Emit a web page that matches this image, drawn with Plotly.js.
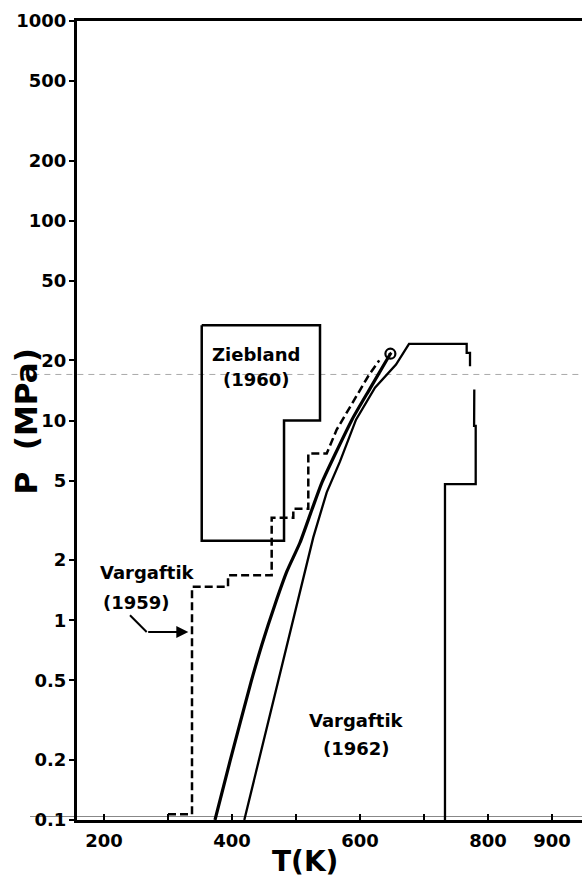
<!DOCTYPE html>
<html>
<head>
<meta charset="utf-8">
<script src="https://cdn.plot.ly/plotly-3.0.1.min.js"></script>
<style>html,body{margin:0;padding:0;background:#fff;}#chart{width:582px;height:880px;}</style>
</head>
<body>
<div id="chart"></div>
<script>
// ---- Data (T in K, P in MPa) ----
// Saturation (vapour-pressure) curve, ending at the critical point
const T_sat = [373.4, 396.9, 429.7, 446.9, 467.2, 485.9, 506.3, 525, 540.6, 560.9, 587.5, 615.6, 642.2, 647.5];
const P_sat = [0.1, 0.197, 0.49, 0.759, 1.2, 1.76, 2.45, 3.59, 4.9, 6.76, 10.1, 14.45, 20.2, 21.6];
// Critical point
const T_crit = [647.5];
const P_crit = [21.6];
// Vargaftik (1962) region boundary
const T_v62 = [419.2, 481.3, 527, 548, 568.8, 593.8, 623.4, 656.3, 676.6, 766.7, 766.7, 771.9, 771.9, null, 778.6, 778.3, 780.8, 780.8, 732.8, 732.8];
const P_v62 = [0.1, 0.661, 2.6, 4.37, 6.24, 10.1, 14.6, 19.05, 24.2, 24.2, 21.8, 21.8, 18.7, null, 14.3, 9.4, 9.4, 4.8, 4.8, 0.1];
// Vargaftik (1959) region boundary (dashed)
const T_v59 = [300, 337.5, 337.5, 393.8, 393.8, 462, 462, 495.8, 495.8, 519.2, 519.2, 548, 563.6, 587, 613, 630];
const P_v59 = [0.107, 0.107, 1.47, 1.47, 1.68, 1.68, 3.26, 3.26, 3.62, 3.62, 6.84, 6.84, 9.0, 12.0, 16.7, 20.0];
// Ziebland (1960) region boundary
const T_zb = [352.7, 537.5, 537.5, 481.3, 481.3, 352.7, 352.7];
const P_zb = [30, 30, 10, 10, 2.5, 2.5, 30];
// Pointer arrow for the Vargaftik (1959) label
const T_arrow = [240.6, 266.7, 331.7];
const P_arrow = [1.06, 0.874, 0.874];
// Faint horizontal lines in the scan
const P_faint = [17, 0.1041];
// Region labels
const labelText = ["Ziebland", "(1960)", "Vargaftik", "(1959)", "Vargaftik", "(1962)"];
const labelT = [437.5, 439, 268, 251, 593.8, 595.3];
const labelP = [21.4, 16.0, 1.74, 1.23, 0.316, 0.229];
// Axis ticks
const xTickVals = [200, 300, 400, 500, 600, 700, 800, 900];
const xTickText = ["200", "", "400", "", "600", "", "800", "900"];
const yTickVals = [0.1, 0.2, 0.5, 1, 2, 5, 10, 20, 50, 100, 200, 500, 1000];
const yTickText = ["0.1", "0.2", "0.5", "1", "2", "5", "10", "20", "50", "100", "200", "500", "1000"];

const FONT = "DejaVu Sans, Arial, sans-serif";

const traces = [
  {x: T_zb, y: P_zb, mode: "lines", line: {color: "#000", width: 2.5}, hoverinfo: "skip"},
  {x: T_v59, y: P_v59, mode: "lines", line: {color: "#000", width: 2.5, dash: "8px,4px"}, hoverinfo: "skip"},
  {x: T_v62, y: P_v62, mode: "lines", connectgaps: false, line: {color: "#000", width: 2.3}, hoverinfo: "skip"},
  {x: T_sat, y: P_sat, mode: "lines", line: {color: "#000", width: 3.2, shape: "spline", smoothing: 0.6}, hoverinfo: "skip"},
  {x: T_crit, y: P_crit, mode: "markers", marker: {symbol: "circle-open-dot", size: 10, color: "#000", line: {width: 2.2, color: "#000"}}, hoverinfo: "skip"},
  {x: T_arrow.slice(0, 2), y: P_arrow.slice(0, 2), mode: "lines", line: {color: "#000", width: 2}, hoverinfo: "skip"}
];

const annotations = labelText.map((t, i) => ({
  x: labelT[i], y: Math.log10(labelP[i]), xref: "x", yref: "y",
  text: t, showarrow: false,
  font: {family: FONT, size: 18, weight: "bold", color: "#000"}
}));
annotations.push({
  x: T_arrow[2], y: Math.log10(P_arrow[2]), xref: "x", yref: "y",
  ax: T_arrow[1], ay: Math.log10(P_arrow[1]), axref: "x", ayref: "y",
  showarrow: true, arrowhead: 2, arrowsize: 1.2, arrowwidth: 2, arrowcolor: "#000", text: ""
});
// axis titles as annotations (positioned as in the reference)
annotations.push({
  x: (305 - 77) / 505, y: -0.052, xref: "paper", yref: "paper",
  text: "T(K)", showarrow: false, xanchor: "center", yanchor: "middle",
  font: {family: FONT, size: 28, weight: "bold", color: "#000"}
});
annotations.push({
  x: (26 - 77) / 505, y: (820 - 421) / 800, xref: "paper", yref: "paper",
  text: "P\u00a0 (MPa)", textangle: -90, showarrow: false, xanchor: "center", yanchor: "middle",
  font: {family: FONT, size: 31, weight: "bold", color: "#000"}
});

const shapes = [
  {type: "line", xref: "paper", yref: "paper", x0: -0.13, x1: 1, y0: (Math.log10(P_faint[0]) + 1) / 4, y1: (Math.log10(P_faint[0]) + 1) / 4,
   line: {color: "#aaa", width: 1, dash: "6px,5px"}, layer: "below"},
  {type: "line", xref: "paper", yref: "paper", x0: -0.093, x1: 1, y0: (Math.log10(P_faint[1]) + 1) / 4, y1: (Math.log10(P_faint[1]) + 1) / 4,
   line: {color: "#888", width: 1}, layer: "below"}
];

const layout = {
  width: 582, height: 880,
  margin: {l: 77, r: 0, t: 21, b: 60},
  paper_bgcolor: "#fff", plot_bgcolor: "#fff",
  showlegend: false,
  xaxis: {
    range: [157.8, 946.9], tickmode: "array", tickvals: xTickVals, ticktext: xTickText,
    ticks: "inside", ticklen: 6, tickwidth: 2, tickcolor: "#000",
    showline: true, linewidth: 3, linecolor: "#000", mirror: true,
    showgrid: false, zeroline: false, ticklabelstandoff: 2,
    tickfont: {family: FONT, size: 18, weight: "bold", color: "#000"}
  },
  yaxis: {
    type: "log", range: [-1, 3], tickmode: "array", tickvals: yTickVals, ticktext: yTickText,
    ticks: "outside", ticklen: 5, tickwidth: 2, tickcolor: "#000",
    showline: true, linewidth: 3, linecolor: "#000", mirror: false,
    showgrid: false, zeroline: false, ticklabelstandoff: -1,
    tickfont: {family: FONT, size: 18, weight: "bold", color: "#000"}
  },
  annotations: annotations,
  shapes: shapes
};

Plotly.newPlot("chart", traces, layout, {staticPlot: true, displayModeBar: false});
</script>
</body>
</html>
